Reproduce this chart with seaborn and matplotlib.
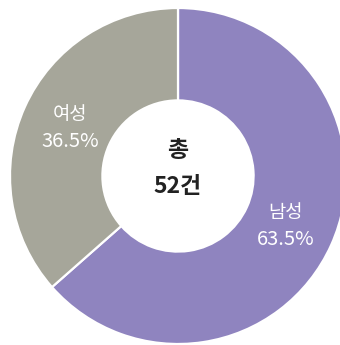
import matplotlib
matplotlib.use("Agg")
import matplotlib.pyplot as plt
import numpy as np
import seaborn as sns

# Gender split of cases
categories = ["남성", "여성"]
shares = [63.5, 36.5]
total_label = "총"
total_count = "52건"

sns.set_theme(style="white")
plt.rcParams["font.family"] = ["Noto Sans CJK KR", "DejaVu Sans"]

colors = ["#8f84bf", "#a6a69a"]

fig = plt.figure(figsize=(3.40, 3.45), dpi=100)
fig.patch.set_facecolor("white")
ax = fig.add_axes([0, 0, 1, 1])

wedges, _ = ax.pie(
    shares,
    colors=colors,
    startangle=90,
    counterclock=False,
    radius=1.0,
    wedgeprops=dict(width=0.55, edgecolor="white", linewidth=1.6),
)

# Place labels in the middle of each ring segment
label_r = 0.705
for w, cat, val in zip(wedges, categories, shares):
    mid = np.deg2rad((w.theta1 + w.theta2) / 2)
    x, y = label_r * np.cos(mid), label_r * np.sin(mid)
    ax.text(x, y + 0.075, cat, ha="center", va="center",
            color="white", fontsize=13.5)
    ax.text(x, y - 0.085, f"{val}%", ha="center", va="center",
            color="white", fontsize=14.5)

ax.text(0, 0.15, total_label, ha="center", va="center",
        color="#222222", fontsize=16.5, fontweight="bold")
ax.text(0, -0.065, total_count, ha="center", va="center",
        color="#222222", fontsize=16.5, fontweight="bold")

# Frame the ring inside the canvas (center slightly left of middle)
cx, cy, r = 178.0, 176.0, 168.0
W, H = 340.0, 345.0
ax.set_xlim(-cx / r, (W - cx) / r)
ax.set_ylim((cy - H) / r, cy / r)
ax.set_aspect("auto")
ax.axis("off")

fig.savefig("out.png", dpi=100, facecolor="white")
